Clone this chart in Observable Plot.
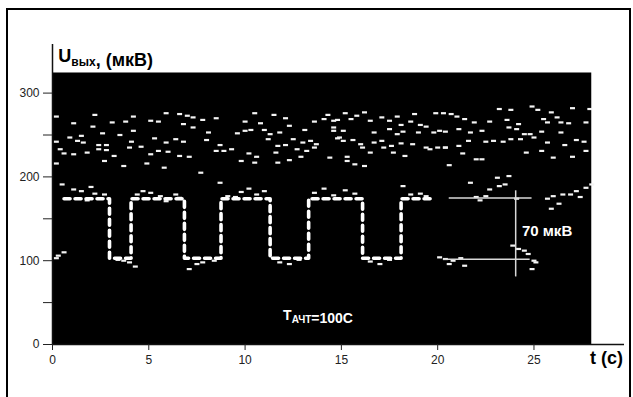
<!DOCTYPE html>
<html>
<head>
<meta charset="utf-8">
<script src="https://cdn.jsdelivr.net/npm/d3@7"></script>
<script src="https://cdn.jsdelivr.net/npm/@observablehq/plot@0.6"></script>
<style>
  html, body { margin: 0; padding: 0; background: #fff; }
  #wrap { position: relative; width: 633px; height: 397px; overflow: hidden; }
  #frame { position: absolute; left: 6px; top: 8px; width: 625px; height: 400px; border: 2px solid #000; box-sizing: border-box; pointer-events: none; }
</style>
</head>
<body>
<div id="wrap"><div id="chart"></div><div id="frame"></div></div>
<script>
// ---- axis ticks ----
const xTicks = [0, 5, 10, 15, 20, 25];
const yTicks = [0, 50, 100, 150, 200, 250, 300];
const yLabelled = [0, 100, 200, 300];

// ---- black recording area (t in s, U in µV) ----
const bgT = [0, 28];
const bgU = [0, 324];

// ---- upper noise band (t, U) ----
const bandT = [0.2,2.2,4.2,5.9,6.6,7.0,7.3,7.8,8.5,10.5,11.5,12.1,13.6,14.1,14.3,14.8,1.1,2.1,3.1,3.8,5.1,5.5,6.8,7.3,10.0,10.3,10.8,11.0,11.8,12.3,13.1,14.6,0.9,1.5,2.6,3.5,4.2,8.1,9.6,10.0,11.3,13.4,14.9,0.2,0.4,1.3,1.6,2.4,2.8,4.1,5.3,5.9,6.4,6.8,8.0,8.7,11.2,11.7,12.1,12.5,13.0,13.7,13.6,0.6,1.1,1.8,2.4,2.8,3.2,4.0,4.6,5.1,5.5,6.0,6.6,7.1,8.5,8.9,9.3,10.2,10.6,11.6,12.7,13.2,0.2,2.7,3.7,4.9,5.8,9.8,10.5,11.7,12.3,12.9,14.4,
  14.6,15.2,15.5,15.8,16.2,16.5,17.1,17.5,17.9,18.1,18.6,18.8,19.1,19.4,19.9,20.3,20.7,21.0,21.4,21.9,22.7,23.2,23.6,23.8,24.2,24.9,25.2,25.5,25.7,25.9,26.2,26.4,26.8,27.0,27.7,27.9,14.6,15.1,16.7,17.5,17.9,18.2,19.0,19.8,20.1,20.4,21.1,21.7,22.3,23.7,24.1,24.5,24.8,25.4,26.4,14.8,15.1,15.6,16.0,16.7,17.1,17.6,18.1,18.7,19.4,20.0,20.4,21.1,21.6,22.5,22.9,23.4,23.8,24.3,25.0,25.7,26.6,27.2,27.6,15.3,16.1,16.5,17.2,17.7,18.3,19.6,20.4,21.3,22.0,24.6,25.4,26.0,27.0,27.7,15.3,15.7,16.2,20.6,22.3];
const bandU = [272,274,272,276,275,273,271,268,270,276,274,270,266,269,274,268,264,260,265,266,267,266,263,259,266,256,264,256,253,261,256,259,247,249,252,250,255,253,252,255,251,243,247,242,233,243,241,238,238,242,246,241,245,242,244,238,245,237,238,245,241,239,235,228,227,229,233,232,225,235,236,227,231,230,225,224,231,231,233,228,224,229,233,231,216,219,213,216,211,219,217,217,220,224,223,
  267,276,269,273,277,267,271,267,272,262,266,275,262,260,276,276,275,272,269,265,266,281,268,280,263,284,280,269,265,277,271,265,264,282,265,281,255,255,253,257,251,254,253,253,255,254,257,253,255,259,257,251,251,254,253,246,243,244,239,241,243,237,240,239,235,235,235,237,243,242,243,242,245,245,247,241,238,244,242,224,235,229,235,229,225,233,235,228,221,229,231,223,224,231,219,215,213,214,221];

// ---- scatter hugging the square wave (t, U) ----
const nearT = [0.5,1.1,1.5,2.0,2.2,2.7,1.8,4.4,4.7,5.1,5.6,5.9,6.4,6.6,7.7,8.7,9.1,9.5,9.8,10.2,10.6,11.0,13.6,14.1,14.6,15.2,15.7,18.2,18.6,19.1,19.4,21.7,22.0,22.2,22.5,22.7,23.1,23.2,23.5,23.7,24.1,25.7,26.0,26.5,26.9,27.2,27.4,27.7,28.0,25.9,26.3,
  0.2,0.3,0.6,3.4,3.7,4.0,4.3,7.1,7.5,7.8,8.4,11.8,12.3,12.8,16.5,17.0,17.5,20.1,20.4,20.8,21.2,21.4,20.6,23.9,24.2,24.5,24.7,25.0,25.1,24.9];
const nearU = [191,185,183,188,180,179,172,179,183,181,177,171,179,175,205,193,177,176,182,186,179,183,181,186,178,184,180,189,179,180,177,193,176,172,177,185,199,189,191,201,174,174,177,179,179,183,176,187,191,162,168,
  103,106,110,101,100,98,93,90,96,98,100,98,96,101,99,96,101,104,102,100,103,94,96,118,114,112,108,100,98,90];

// ---- dashed square wave (step-after knots) ----
const waveT = [0.6, 2.96, 4.08, 6.85, 8.75, 11.3, 13.3, 16.1, 18.1, 19.8];
const waveU = [174, 103, 174, 103, 174, 103, 174, 103, 174, 174];

// ---- 70 µV measurement guides ----
const guideH = [{u: 174.7, t1: 20.6, t2: 24.9}, {u: 101.8, t1: 20.3, t2: 24.8}];
const guideV = [{t: 24.05, u1: 80.6, u2: 183.4}];

// ---- text labels ----
const labels = [
  {t: 0.33, u: 336.5, parts: [["U", 18, 0], ["вых", 12, 4], [", (мкВ)", 18, 0]], fill: "#000"},
  {t: 12.0, u: 28.6, parts: [["T", 14, 0], ["АЧТ", 10, 3], ["=100C", 14, 0]], fill: "#fff"},
  {t: 24.4, u: 128.9, parts: [["70 мкВ", 15, 0]], fill: "#fff"},
  {t: 27.93, u: -23.9, parts: [["t (c)", 18, 0]], fill: "#000"}
];

const pts = bandT.map((t, i) => ({t, u: bandU[i]})).concat(nearT.map((t, i) => ({t, u: nearU[i]})));
const wave = waveT.map((t, i) => ({t, u: waveU[i]}));
const bg = [{t1: bgT[0], t2: bgT[1], u1: bgU[0], u2: bgU[1]}];

const chart = Plot.plot({
  width: 633,
  height: 397,
  marginLeft: 52,
  marginRight: 9,
  marginTop: 44,
  marginBottom: 53,
  x: {domain: [0, 29.7]},
  y: {domain: [0, 358]},
  style: {background: "transparent", fontFamily: "'Liberation Sans', Arial, sans-serif", fontSize: "12px", color: "#222"},
  marks: [
    Plot.rect(bg, {x1: "t1", x2: "t2", y1: "u1", y2: "u2", fill: "#000"}),
    Plot.link(pts, {x1: d => d.t - 0.13, x2: d => d.t + 0.13, y1: "u", y2: "u", stroke: "#f4f4f4", strokeWidth: 2.2}),
    Plot.line(wave, {x: "t", y: "u", curve: "step-after", stroke: "#fff", strokeWidth: 3.6, strokeDasharray: "6,5"}),
    Plot.ruleY(guideH, {y: "u", x1: "t1", x2: "t2", stroke: "#d8d8d8", strokeWidth: 1.5}),
    Plot.ruleX(guideV, {x: "t", y1: "u1", y2: "u2", stroke: "#d8d8d8", strokeWidth: 1.5}),
    Plot.ruleY([0], {stroke: "#111", strokeWidth: 1.5}),
    Plot.ruleX([0], {stroke: "#111", strokeWidth: 1.5}),
    Plot.axisX({ticks: xTicks, tickSize: 6, tickPadding: 5, label: null, fontSize: 12}),
    Plot.axisY({ticks: yTicks, tickSize: 9, tickPadding: 4, label: null, fontSize: 12,
      tickFormat: d => yLabelled.includes(d) ? String(d) : ""})
  ]
});
document.getElementById("chart").appendChild(chart);

// rich labels with subscripts, positioned through the chart's scales
const sx = chart.scale("x"), sy = chart.scale("y");
const svg = d3.select(chart);
for (const L of labels) {
  const txt = svg.append("text")
    .attr("x", sx.apply(L.t)).attr("y", sy.apply(L.u))
    .attr("text-anchor", "start")
    .attr("fill", L.fill).attr("font-weight", "bold")
    .attr("font-family", "'Liberation Sans', Arial, sans-serif");
  for (const [s, size, shift] of L.parts) {
    txt.append("tspan").attr("font-size", size).attr("dy", shift).text(s);
    if (shift) txt.append("tspan").attr("dy", -shift).text("");
  }
}
</script>
</body>
</html>
